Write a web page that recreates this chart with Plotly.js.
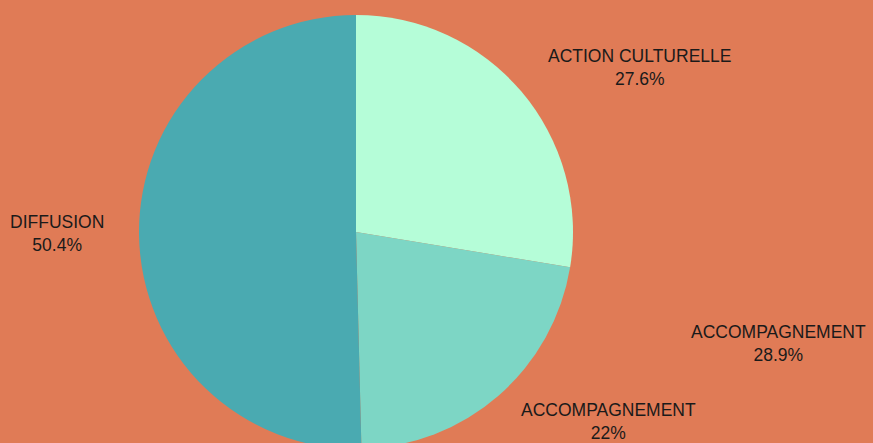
<!DOCTYPE html>
<html>
<head>
<meta charset="utf-8">
<script src="https://cdn.plot.ly/plotly-3.0.1.min.js"></script>
<style>
html,body{margin:0;padding:0;overflow:hidden;background:#E07B56;}
#chart{width:873px;height:460px;}
</style>
</head>
<body>
<div id="chart"></div>
<script>
const categories = ["ACTION CULTURELLE", "ACCOMPAGNEMENT", "DIFFUSION"];
const values = [27.6, 22, 50.4];
const sliceColors = ["#B5FDD8", "#7DD6C5", "#4AAAB1"];
const extraCategory = "ACCOMPAGNEMENT";
const extraValue = 28.9;

const W = 873, H = 460;
const cx = 356, cy = 232, r = 217;

const trace = {
  type: "pie",
  labels: categories,
  values: values,
  sort: false,
  direction: "clockwise",
  rotation: 0,
  textinfo: "none",
  hoverinfo: "label+percent",
  marker: {colors: sliceColors, line: {width: 0}},
  domain: {
    x: [(cx - r) / W, (cx + r) / W],
    y: [(H - cy - r) / H, (H - cy + r) / H]
  },
  showlegend: false
};

// label placement (pixels from top-left of the page)
const labelPos = [[639.5, 67.5], [608, 421.5], [57, 234]];
const extraPos = [778, 343.5];

function fmt(v) { return (Math.round(v * 10) / 10) + "%"; }
const total = values.reduce((a, b) => a + b, 0);
const labelFont = {family: "Liberation Sans, Arial, sans-serif", size: 17.5, color: "#1a1a1a"};

const annotations = categories.map((c, i) => ({
  text: c + "<br>" + fmt(values[i] / total * 100),
  x: labelPos[i][0] / W, y: (H - labelPos[i][1]) / H,
  xref: "paper", yref: "paper", xanchor: "center", yanchor: "middle",
  showarrow: false, align: "center",
  font: labelFont
}));
annotations.push({
  text: extraCategory + "<br>" + fmt(extraValue),
  x: extraPos[0] / W, y: (H - extraPos[1]) / H,
  xref: "paper", yref: "paper", xanchor: "center", yanchor: "middle",
  showarrow: false, align: "center",
  font: labelFont
});

const layout = {
  width: W, height: H,
  margin: {l: 0, r: 0, t: 0, b: 0, pad: 0},
  paper_bgcolor: "#E07B56",
  plot_bgcolor: "#E07B56",
  annotations: annotations,
  showlegend: false
};

Plotly.newPlot("chart", [trace], layout, {displayModeBar: false, staticPlot: true});
</script>
</body>
</html>
